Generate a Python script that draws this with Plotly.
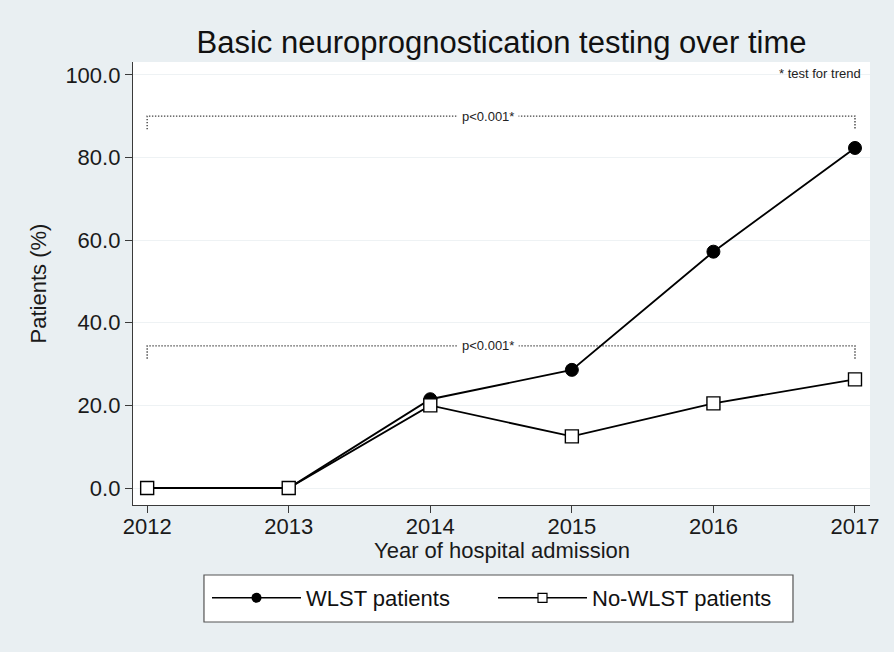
import plotly.graph_objects as go

years = [2012, 2013, 2014, 2015, 2016, 2017]
wlst = [0.0, 0.0, 21.5, 28.6, 57.2, 82.3]
no_wlst = [0.0, 0.0, 20.0, 12.5, 20.5, 26.3]

# significance brackets: (top level, end level, label)
bracket_x = [2012, 2012, 2017, 2017]
bracket_top = [90.0, 34.4]
bracket_end = [86.8, 31.3]
bracket_label_x = 2014.41
bracket_labels = ["p<0.001*", "p<0.001*"]

y_ticks = [0, 20, 40, 60, 80, 100]
y_ticktext = ["0.0", "20.0", "40.0", "60.0", "80.0", "100.0"]

FONT = "Liberation Sans, Arial, Helvetica, sans-serif"
BG = "#E9EFF2"
AX = "#3a3a3a"

fig = go.Figure()

for top, end in zip(bracket_top, bracket_end):
    fig.add_trace(go.Scatter(
        x=bracket_x, y=[end, top, top, end], mode="lines",
        line=dict(color="#444444", width=1.4, dash="1.4px,1.6px"),
        showlegend=False, hoverinfo="skip"))

fig.add_trace(go.Scatter(
    x=years, y=wlst, mode="lines+markers", name="WLST patients",
    line=dict(color="black", width=1.9), showlegend=False,
    marker=dict(symbol="circle", size=13, color="black",
                line=dict(color="black", width=1))))
fig.add_trace(go.Scatter(
    x=years, y=no_wlst, mode="lines+markers", name="No-WLST patients",
    line=dict(color="black", width=1.9), showlegend=False,
    marker=dict(symbol="square", size=13, color="white",
                line=dict(color="black", width=1.4))))

# legend entries (smaller legend keys, as in the reference)
fig.add_trace(go.Scatter(
    x=[None], y=[None], mode="lines+markers", name="WLST patients",
    line=dict(color="black", width=1.5),
    marker=dict(symbol="circle", size=10, color="black")))
fig.add_trace(go.Scatter(
    x=[None], y=[None], mode="lines+markers", name="No-WLST patients",
    line=dict(color="black", width=1.5),
    marker=dict(symbol="square", size=9, color="white",
                line=dict(color="black", width=1.2))))

for top, lab in zip(bracket_top, bracket_labels):
    fig.add_annotation(x=bracket_label_x, y=top, text=lab, showarrow=False,
                       font=dict(size=13, color="#222222", family=FONT),
                       bgcolor="white", borderpad=4)

fig.add_annotation(x=0.991, y=0.975, xref="paper", yref="paper",
                   text="* test for trend", showarrow=False,
                   xanchor="right", yanchor="middle",
                   font=dict(size=13, color="#222222", family=FONT))

fig.add_annotation(x=0.5, y=-0.1016, xref="paper", yref="paper",
                   text="Year of hospital admission", showarrow=False,
                   xanchor="center", yanchor="middle",
                   font=dict(size=22, family=FONT, color="#1a1a1a"))

# legend box
fig.add_shape(type="rect", xref="paper", yref="paper",
              x0=0.0963, x1=0.8955, y0=-0.2641, y1=-0.158,
              fillcolor="white", line=dict(color="#555555", width=1.2),
              layer="below")

fig.update_layout(
    width=894, height=652,
    margin=dict(l=133, r=24, t=62, b=147),
    paper_bgcolor=BG, plot_bgcolor="white",
    font=dict(family=FONT, color="#1a1a1a", size=22),
    title=dict(text="Basic neuroprognostication testing over time",
               x=0.5, xref="paper", xanchor="center",
               y=1 - 42 / 652, yref="container", yanchor="middle",
               font=dict(size=31, family=FONT, color="#111111")),
    legend=dict(orientation="h", x=0.1004, xanchor="left",
                y=-0.2099, yanchor="middle",
                bgcolor="rgba(0,0,0,0)", borderwidth=0,
                font=dict(size=22, family=FONT, color="#111111"),
                entrywidth=182, entrywidthmode="pixels",
                itemwidth=89),
    xaxis=dict(range=[2011.9, 2017.106], tickvals=years,
               ticktext=[str(y) for y in years],
               showgrid=False, zeroline=False,
               showline=True, linecolor=AX, linewidth=1.3,
               ticks="outside", ticklen=7, tickcolor=AX, tickwidth=1.3,
               ticklabelstandoff=-6,
               tickfont=dict(size=22, family=FONT, color="#1a1a1a")),
    yaxis=dict(range=[-4.1, 103.1], tickvals=y_ticks, ticktext=y_ticktext,
               showgrid=True, gridcolor="#EEF2F4", gridwidth=1,
               zeroline=False,
               showline=True, linecolor=AX, linewidth=1.3,
               ticks="outside", ticklen=7, tickcolor=AX, tickwidth=1.3,
               tickfont=dict(size=22, family=FONT, color="#1a1a1a"),
               title=dict(text="Patients (%)", standoff=12,
                          font=dict(size=22, family=FONT, color="#1a1a1a"))),
)

fig.write_html("out.html",
               config={"displayModeBar": False},
               post_script="document.body.style.margin='0';"
                           "document.body.style.padding='0';")
